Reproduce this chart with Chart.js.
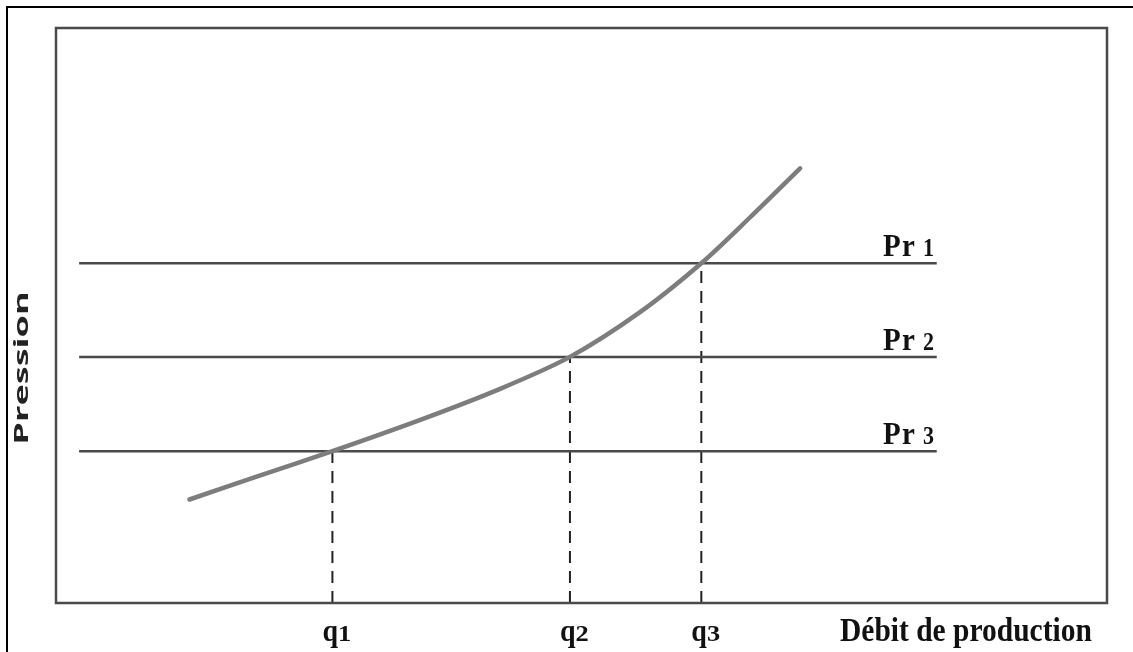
<!DOCTYPE html>
<html>
<head>
<meta charset="utf-8">
<script src="https://cdn.jsdelivr.net/npm/chart.js@4.4.0/dist/chart.umd.min.js"></script>
<style>
  html, body { margin: 0; padding: 0; background: #fff; }
  #wrap { width: 1133px; height: 652px; position: relative; }
</style>
</head>
<body>
<div id="wrap"><canvas id="chart" width="1133" height="652"></canvas></div>
<script>
// courbe de performance (débit -> pression)
var curveX = [1.27, 1.93, 2.63, 3.46, 4.22, 4.89, 5.55, 6.14, 6.60, 7.08];
var curveY = [1.80, 2.21, 2.64, 3.18, 3.72, 4.28, 5.05, 5.91, 6.70, 7.56];

// débits q1, q2, q3
var qNames = ['q', 'q', 'q'];
var qIdx = ['1', '2', '3'];
var qValues = [2.63, 4.89, 6.14];

// pressions Pr1, Pr2, Pr3
var prIdx = ['1', '2', '3'];
var prValues = [5.91, 4.28, 2.64];
var prLineFrom = 0.22;
var prLineTo = 8.38;

var xTitle = 'Débit de production';
var yTitle = 'Pression';

// jeux de données
var datasets = [];
datasets.push({
    data: curveX.map(function (x, i) { return {x: x, y: curveY[i]}; }),
    showLine: true,
    borderColor: '#7d7d7d',
    borderWidth: 4.5,
    pointRadius: 0,
    tension: 0.3,
    borderCapStyle: 'round',
    order: 0
});
prValues.forEach(function (p) {
    datasets.push({
        data: [{x: prLineFrom, y: p}, {x: prLineTo, y: p}],
        showLine: true,
        borderColor: '#4a4a4a',
        borderWidth: 2.5,
        pointRadius: 0,
        order: 1
    });
});
qValues.forEach(function (q, i) {
    datasets.push({
        data: [{x: q, y: 0}, {x: q, y: prValues[2 - i]}],
        showLine: true,
        borderColor: '#222',
        borderWidth: 2,
        borderDash: [12, 8],
        pointRadius: 0,
        order: 2
    });
});

// cadre, bordure et textes
var decor = {
    id: 'decor',
    beforeDraw: function (chart) {
        var ctx = chart.ctx;
        ctx.save();
        ctx.fillStyle = '#fff';
        ctx.fillRect(0, 0, chart.width, chart.height);
        ctx.restore();
    },
    afterDraw: function (chart) {
        var ctx = chart.ctx;
        var a = chart.chartArea;
        var sx = chart.scales.x, sy = chart.scales.y;
        ctx.save();
        // bordure extérieure
        ctx.strokeStyle = '#000';
        ctx.lineWidth = 2;
        ctx.beginPath();
        ctx.moveTo(7, 652);
        ctx.lineTo(7, 7);
        ctx.lineTo(1133, 7);
        ctx.stroke();
        // cadre du graphique
        ctx.strokeStyle = '#4a4a4a';
        ctx.lineWidth = 2.5;
        ctx.strokeRect(a.left, a.top, a.right - a.left, a.bottom - a.top);

        ctx.fillStyle = '#111';
        ctx.textBaseline = 'alphabetic';
        ctx.textAlign = 'left';
        var serif = '"Liberation Serif", "Times New Roman", serif';

        // Pr 1, Pr 2, Pr 3
        prValues.forEach(function (p, i) {
            var y = sy.getPixelForValue(p) - 7;
            ctx.save();
            ctx.translate(883, y);
            ctx.scale(1, 1.1);
            ctx.font = 'bold 29px ' + serif;
            ctx.fillText('P', 0, 0);
            ctx.fillText('r', 19, 0);
            ctx.font = 'bold 22px ' + serif;
            ctx.fillText(prIdx[i], 40, 0);
            ctx.restore();
        });
        // q1, q2, q3
        qValues.forEach(function (q, i) {
            ctx.save();
            ctx.translate(sx.getPixelForValue(q) - 10, 641);
            ctx.scale(1, 1.15);
            ctx.font = 'bold 28px ' + serif;
            ctx.fillText(qNames[i], 0, 0);
            ctx.scale(1.2, 0.95);
            ctx.font = 'bold 22px ' + serif;
            ctx.fillText(qIdx[i], 13, 0);
            ctx.restore();
        });
        // titre axe x
        ctx.save();
        ctx.translate(840, 641);
        ctx.scale(1, 1.15);
        ctx.font = 'bold 29.5px ' + serif;
        ctx.fillText(xTitle, 0, 0);
        ctx.restore();
        // titre axe y
        ctx.save();
        ctx.translate(28, 368);
        ctx.rotate(-Math.PI / 2);
        ctx.scale(1.9, 1);
        ctx.textAlign = 'center';
        ctx.fillStyle = '#222';
        ctx.font = 'bold 19px "Open Sans", "DejaVu Sans", sans-serif';
        ctx.fillText(yTitle, 0, 0);
        ctx.restore();

        ctx.restore();
    }
};

new Chart(document.getElementById('chart'), {
    type: 'scatter',
    data: { datasets: datasets },
    options: {
        responsive: false,
        animation: false,
        layout: { padding: { left: 56, top: 28, right: 26, bottom: 49 } },
        plugins: { legend: { display: false }, tooltip: { enabled: false } },
        scales: {
            x: { display: false, min: 0, max: 10 },
            y: { display: false, min: 0, max: 10 }
        }
    },
    plugins: [decor]
});
</script>
</body>
</html>
